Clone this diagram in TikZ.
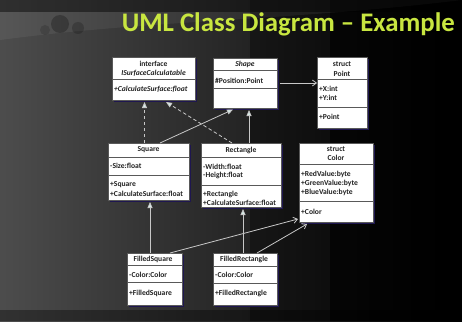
\documentclass[tikz,border=0pt]{standalone}
\usepackage{fontspec}
\setmainfont{Carlito}
\usetikzlibrary{arrows.meta,calc}
\definecolor{titlegreen}{HTML}{C8E640}
\definecolor{shadowblue}{HTML}{1E1650}
\definecolor{headfill}{HTML}{D6EEEA}
\definecolor{linegray}{HTML}{C8C8C8}
\definecolor{txtgray}{HTML}{222222}
\tikzset{
  cls/.style={draw=gray!70!black, fill=white, line width=0.5pt, anchor=north west, inner sep=0pt, outer sep=0pt},
  clsshadow/.style={fill=shadowblue},
  divline/.style={draw=gray!70!black, line width=0.5pt},
  hdr/.style={font=\fontsize{7.6}{8}\selectfont\bfseries, text=txtgray, inner sep=0pt, anchor=center},
  attr/.style={font=\fontsize{7.6}{8}\selectfont\bfseries, text=txtgray, inner sep=0pt, anchor=west},
  gen/.style={draw=linegray, line width=0.8pt, -{Triangle[length=6pt,width=5pt,fill=headfill]}},
  real/.style={gen, dashed, dash pattern=on 3.5pt off 2.5pt},
  assoc/.style={draw=linegray, line width=0.8pt, -{Straight Barb[length=4pt,width=6pt]}},
}
\begin{document}
\begin{tikzpicture}[x=1pt,y=-1pt]
% background
\path[use as bounding box] (0,0) rectangle (462,321);
\shade[left color=black!70, right color=black] (0,0) rectangle (462,321);
\fill[black, opacity=0.55] (462,0) rectangle (330,321);
\fill[black, opacity=0.35] (462,0) rectangle (250,321);
\fill[white, opacity=0.06] (0,40) .. controls (150,20) and (300,20) .. (462,0) -- (0,0) -- cycle;
\fill[black, opacity=0.45] (0,0) rectangle (462,12);
\fill[black, opacity=0.35] (0,310) rectangle (462,321);
\fill[black, opacity=0.25] (60,24) circle (9);
\fill[black, opacity=0.2] (78,28) circle (6);
\fill[black, opacity=0.15] (45,30) circle (5);

% title
\node[font=\fontsize{26.8}{28}\selectfont\bfseries, text=titlegreen, anchor=base east, inner sep=0pt] (title) at (455,31) {UML Class Diagram – Example};

% ---- ISurfaceCalculatable
\fill[clsshadow] (114,59) rectangle (197,102);
\node[cls, minimum width=83pt, minimum height=43pt] (isc) at (112,57) {};
\draw[divline] (112,79) -- (195,79);
\node[hdr] (isc-t1) at (153.5,64) {interface};
\node[hdr] (isc-t2) at (153.5,73) {\itshape ISurfaceCalculatable};
\node[attr] (isc-m1) at (114,89.5) {\itshape +CalculateSurface:float};

% ---- Shape
\fill[clsshadow] (215,60) rectangle (279,110);
\node[cls, minimum width=64pt, minimum height=50pt] (shape) at (213,58) {};
\draw[divline] (213,70) -- (277,70);
\draw[divline] (213,88) -- (277,88);
\node[hdr] (shape-t) at (245,64) {\itshape Shape};
\node[attr] (shape-a1) at (215,80.5) {\#Position:Point};

% ---- Point
\fill[clsshadow] (319,59) rectangle (369,130);
\node[cls, minimum width=50pt, minimum height=71pt] (pt) at (317,57) {};
\draw[divline] (317,79) -- (367,79);
\draw[divline] (317,107) -- (367,107);
\node[hdr] (pt-t1) at (342,64) {struct};
\node[hdr] (pt-t2) at (342,73.5) {Point};
\node[attr] (pt-a1) at (319,89) {+X:int};
\node[attr] (pt-a2) at (319,98) {+Y:int};
\node[attr] (pt-m1) at (319,117) {+Point};

% ---- Square
\fill[clsshadow] (110,145) rectangle (191,202);
\node[cls, minimum width=81pt, minimum height=57pt] (sq) at (108,143) {};
\draw[divline] (108,157) -- (189,157);
\draw[divline] (108,175) -- (189,175);
\node[hdr] (sq-t) at (148.5,150) {Square};
\node[attr] (sq-a1) at (110,166) {-Size:float};
\node[attr] (sq-m1) at (110,185) {+Square};
\node[attr] (sq-m2) at (110,194) {+CalculateSurface:float};

% ---- Rectangle
\fill[clsshadow] (203,145) rectangle (283,209);
\node[cls, minimum width=80pt, minimum height=64pt] (rect) at (201,143) {};
\draw[divline] (201,157) -- (281,157);
\draw[divline] (201,185) -- (281,185);
\node[hdr] (rect-t) at (241,150) {Rectangle};
\node[attr] (rect-a1) at (203,166.5) {-Width:float};
\node[attr] (rect-a2) at (203,175.5) {-Height:float};
\node[attr] (rect-m1) at (203,194) {+Rectangle};
\node[attr] (rect-m2) at (203,202.5) {+CalculateSurface:float};

% ---- Color
\fill[clsshadow] (301,145) rectangle (375,224);
\node[cls, minimum width=74pt, minimum height=79pt] (col) at (299,143) {};
\draw[divline] (299,164) -- (373,164);
\draw[divline] (299,201) -- (373,201);
\node[hdr] (col-t1) at (336,148.7) {struct};
\node[hdr] (col-t2) at (336,157.7) {Color};
\node[attr] (col-a1) at (301,174.7) {+RedValue:byte};
\node[attr] (col-a2) at (301,183.7) {+GreenValue:byte};
\node[attr] (col-a3) at (301,192.7) {+BlueValue:byte};
\node[attr] (col-m1) at (301,211.5) {+Color};

% ---- FilledSquare
\fill[clsshadow] (129,255) rectangle (184,307);
\node[cls, minimum width=55pt, minimum height=52pt] (fsq) at (127,253) {};
\draw[divline] (127,265) -- (182,265);
\draw[divline] (127,282) -- (182,282);
\node[hdr] (fsq-t) at (153,259.5) {FilledSquare};
\node[attr] (fsq-a1) at (129,275) {-Color:Color};
\node[attr] (fsq-m1) at (129,293) {+FilledSquare};

% ---- FilledRectangle
\fill[clsshadow] (215,255) rectangle (279,307);
\node[cls, minimum width=64pt, minimum height=52pt] (frect) at (213,253) {};
\draw[divline] (213,266) -- (277,266);
\draw[divline] (213,283) -- (277,283);
\node[hdr] (frect-t) at (244,259.5) {FilledRectangle};
\node[attr] (frect-a1) at (215,275) {-Color:Color};
\node[attr] (frect-m1) at (215,293) {+FilledRectangle};

% ---- connectors
\draw[real] ([xshift=36.5pt]sq.north west) -- ([xshift=32.5pt,yshift=-2pt]isc.south west);
\draw[real] ([xshift=31pt]rect.north west) -- ([xshift=54pt,yshift=-2pt]isc.south west);
\draw[gen] ([xshift=52pt]sq.north west) -- ([xshift=20pt,yshift=-1.5pt]shape.south west);
\draw[gen] ([xshift=48pt]rect.north west) -- ([xshift=36pt,yshift=-2pt]shape.south west);
\draw[gen] ([xshift=23pt]fsq.north west) -- ([xshift=42pt,yshift=-2pt]sq.south west);
\draw[gen] ([xshift=30pt]frect.north west) -- ([xshift=42pt,yshift=-2pt]rect.south west);
\draw[assoc] ([xshift=3pt]shape.east) -- (shape.east -| pt.west);
\draw[assoc] ([xshift=-12pt]fsq.north east) -- ([xshift=-1pt,yshift=3pt]col.south west);
\draw[assoc] ([xshift=-20pt]frect.north east) -- ([xshift=8pt,yshift=-2pt]col.south west);
\end{tikzpicture}
\end{document}
